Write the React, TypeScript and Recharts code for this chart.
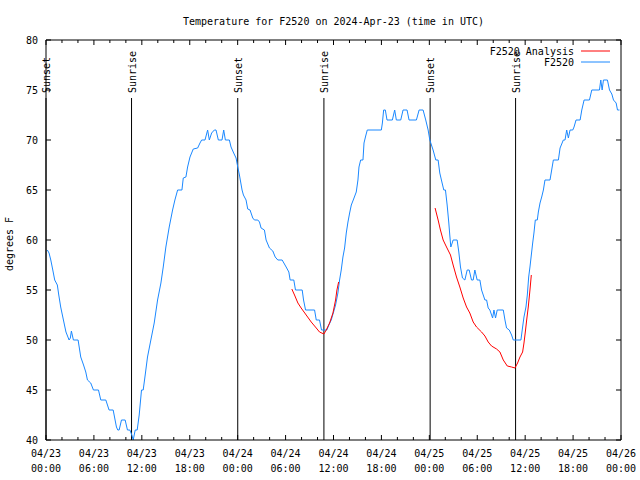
import React from 'react';
import { LineChart, Line, XAxis, YAxis, ReferenceLine } from 'recharts';

const FONT = '"DejaVu Sans Mono", "Liberation Mono", monospace';
const BLUE = '#1a88ff';
const RED = '#ff0000';

const titleText = 'Temperature for F2520 on 2024-Apr-23 (time in UTC)';
const yLabelText = 'degrees F';
const analysisName = 'F2520 Analysis';
const obsName = 'F2520';

// hours since 04/23 00:00 UTC
const xTickHours = [0, 2, 4, 6, 8, 10, 12, 14, 16, 18, 20, 22, 24, 26, 28, 30, 32, 34, 36, 38, 40, 42, 44, 46, 48, 50, 52, 54, 56, 58, 60, 62, 64, 66, 68, 70, 72];
const xTickDates = ['04/23', '04/23', '04/23', '04/23', '04/24', '04/24', '04/24', '04/24', '04/25', '04/25', '04/25', '04/25', '04/26'];
const xTickTimes = ['00:00', '06:00', '12:00', '18:00', '00:00', '06:00', '12:00', '18:00', '00:00', '06:00', '12:00', '18:00', '00:00'];
const yTicks = [40, 45, 50, 55, 60, 65, 70, 75, 80];

const sunsetHours = [0, 24.01, 48.1];
const sunriseHours = [10.71, 34.8, 58.8];

const obsHours = [
  0.17, 0.38, 0.6, 0.85, 1.09, 1.42, 1.6, 1.84, 2.05, 2.26, 2.5, 2.89, 3.05, 3.18, 3.43, 4.02, 4.35, 4.7, 4.98, 5.19,
  5.6, 5.94, 6.57, 6.86, 7.49, 7.9, 8.41, 8.82, 8.99, 9.16, 9.45, 9.91, 10.2, 10.5, 10.75, 10.92, 11.17, 11.42, 11.67, 11.96,
  12.17, 12.42, 12.71, 13.13, 13.55, 13.97, 14.39, 14.68, 15.01, 15.43, 15.85, 16.14, 16.48, 17.02, 17.19, 17.52, 17.73, 18.03, 18.44, 18.99,
  19.28, 19.49, 19.91, 20.24, 20.45, 20.74, 21.08, 21.29, 21.58, 22.04, 22.25, 22.46, 22.96, 23.17, 23.5, 23.8, 24.01, 24.22, 24.55, 24.72,
  25.05, 25.26, 25.55, 25.89, 26.1, 26.52, 26.73, 26.93, 27.35, 27.56, 27.98, 28.4, 28.7, 29.03, 29.57, 30.07, 30.41, 30.57, 31.03, 31.24,
  32.08, 32.25, 32.5, 33.63, 33.84, 34.25, 34.5, 35.17, 35.42, 35.72, 36.01, 36.26, 36.55, 36.76, 36.97, 37.18, 37.39, 37.6, 37.81, 38.02,
  38.23, 38.52, 38.85, 39.06, 39.19, 39.4, 39.69, 39.82, 40.03, 40.23, 41.99, 42.12, 42.28, 42.49, 42.7, 43.37, 43.66, 43.87, 44.42, 44.71,
  45.21, 45.46, 46.38, 46.72, 47.22, 47.55, 47.85, 48.06, 48.47, 48.81, 49.1, 49.31, 49.6, 49.81, 50.02, 50.23, 50.44, 50.56, 50.69, 50.86,
  50.98, 51.48, 51.69, 51.9, 52.15, 52.45, 52.74, 52.99, 53.28, 53.49, 53.7, 53.99, 54.33, 54.54, 54.96, 55.17, 55.37, 55.58, 55.92, 56.09,
  56.29, 56.5, 56.71, 57.26, 57.47, 57.67, 58.01, 58.3, 58.51, 59.47, 59.68, 59.85, 60.1, 60.27, 60.44, 60.6, 60.77, 60.94, 61.1, 61.27,
  61.52, 61.65, 61.86, 62.07, 62.28, 62.48, 63.11, 63.32, 63.53, 64.16, 64.37, 64.78, 64.99, 65.2, 65.41, 65.62, 65.96, 66.12, 66.37, 66.88,
  67.09, 67.38, 68.05, 68.34, 69.3, 69.47, 69.64, 69.8, 70.3, 70.56, 70.85, 71.06, 71.39, 71.56, 71.81,
];
const obsTemps = [
  59, 58.7, 58, 57, 56, 55.5, 54.5, 53.3, 52.5, 51.7, 50.8, 50, 50.2, 50.9, 50, 50, 48.3, 47.5, 46.8, 46,
  45.7, 45, 45, 44, 44, 43, 43, 41.3, 41, 41, 42, 42, 41, 41, 40.5, 40, 41, 41, 42.5, 45,
  45, 46.5, 48.3, 50, 51.7, 54, 55.7, 57.3, 59.3, 61.3, 63, 64, 65, 65, 66.2, 66.3, 67.3, 68.3, 69.1, 69.2,
  69.7, 70, 70, 71, 70, 70.7, 71, 71, 70, 70, 71, 70, 70, 69.3, 68.7, 68.2, 67.3, 66.5, 65, 64.5,
  64, 63.1, 63, 62.2, 62, 62, 61.8, 61.2, 61, 60, 59.2, 58.9, 58.3, 58, 58, 57.3, 56.8, 56, 56, 55,
  55, 54, 53, 53, 52, 52, 51, 51, 51.5, 52, 52.8, 53.5, 54.7, 56, 57, 58.3, 59.2, 60.7, 61.8, 62.7,
  63.5, 64.1, 64.8, 66, 67.3, 68, 68, 69.7, 70.4, 71, 71, 71.7, 73, 73, 72, 72, 73, 72, 72, 73,
  73, 72, 72, 73, 73, 72, 71, 70, 69, 68, 68, 66.7, 65.7, 65, 65, 63.5, 61.7, 60.5, 59.3, 59.7,
  60, 60, 58.8, 57.3, 56.2, 56, 57, 57, 56, 56, 57, 56, 56, 55, 54, 54, 53.2, 53, 52.2, 53,
  52.2, 53, 53, 53, 52, 51.2, 51, 50.5, 50, 50, 51.3, 52.3, 53.3, 54.5, 56.3, 57.3, 58.5, 59.7, 60.7, 62,
  62, 62.8, 63.7, 64.3, 65, 66, 66, 67, 68, 68, 69.2, 70, 70, 71, 70.2, 71, 71, 71.3, 72, 72,
  73, 74, 74, 75, 75, 76, 75, 76, 76, 75, 74.6, 74, 73.7, 73, 73,
];

const analysis1Hours = [30.78, 31.12, 31.54, 31.95, 32.58, 33.21, 33.84, 34.25, 34.8, 35.09, 35.51, 35.93, 36.26, 36.43, 36.64];
const analysis1Temps = [55.1, 54.5, 53.7, 53.2, 52.5, 51.8, 51.2, 50.8, 50.6, 51, 51.7, 52.7, 54, 55, 55.8];

const analysis2Hours = [48.72, 49.1, 49.39, 49.73, 50.15, 50.65, 50.98, 51.4, 51.82, 52.24, 52.66, 53.07, 53.49, 53.91, 54.54, 54.96, 55.37, 55.79, 56.42, 56.84, 57.26, 57.76, 58.3, 58.72, 59.05, 59.35, 59.68, 59.85, 60.02, 60.19, 60.39, 60.6, 60.77];
const analysis2Temps = [63.2, 62, 61, 60, 59.3, 58.5, 57.5, 56.3, 55.3, 54.2, 53.3, 52.7, 51.8, 51.3, 50.8, 50.4, 49.8, 49.4, 49.1, 48.8, 48, 47.4, 47.3, 47.2, 47.7, 48.3, 48.8, 49.7, 50.8, 52, 53.3, 55, 56.5];

const obsData = obsHours.map((h, i) => ({ h, t: obsTemps[i] }));
const analysis1Data = analysis1Hours.map((h, i) => ({ h, t: analysis1Temps[i] }));
const analysis2Data = analysis2Hours.map((h, i) => ({ h, t: analysis2Temps[i] }));

const textStyle = { fontFamily: FONT, fontSize: 10, fill: '#000' } as const;

const BottomTick = (props: any) => {
  const { x, y, payload } = props;
  const v = payload.value as number;
  const major = v % 6 === 0;
  const idx = Math.round(v / 6);
  return (
    <g>
      <line x1={x} y1={y} x2={x} y2={y - (major ? 5 : 3)} stroke="#000" />
      {major && (
        <text x={x} y={y + 17} textAnchor="middle" {...textStyle}>{xTickDates[idx]}</text>
      )}
      {major && (
        <text x={x} y={y + 32} textAnchor="middle" {...textStyle}>{xTickTimes[idx]}</text>
      )}
    </g>
  );
};

const TopTick = (props: any) => {
  const { x, y, payload } = props;
  const v = payload.value as number;
  const major = v % 6 === 0;
  return <line x1={x} y1={y} x2={x} y2={y + (major ? 5 : 3)} stroke="#000" />;
};

const LeftTick = (props: any) => {
  const { x, y, payload } = props;
  return (
    <g>
      <line x1={x} y1={y} x2={x + 5} y2={y} stroke="#000" />
      <text x={x - 8} y={y + 3.5} textAnchor="end" {...textStyle}>{payload.value}</text>
    </g>
  );
};

const RightTick = (props: any) => {
  const { x, y } = props;
  return <line x1={x} y1={y} x2={x - 5} y2={y} stroke="#000" />;
};

const makeSunShape = (label: string) => (p: any) => {
  const top = Math.min(p.y1, p.y2);
  const bottom = Math.max(p.y1, p.y2);
  const x = p.x1;
  return (
    <g>
      <line x1={x} y1={top + 58} x2={x} y2={bottom} stroke="#000" strokeWidth={1} />
      <text transform={`translate(${x + 4},${top + 53}) rotate(-90)`} textAnchor="start" {...textStyle}>
        {label}
      </text>
    </g>
  );
};

export default function App() {
  return (
    <div style={{ position: 'absolute', left: 0, top: 0, width: 640, height: 480, background: '#fff' }}>
      <LineChart
        width={640}
        height={480}
        margin={{ top: 10, right: 0, bottom: 0, left: 0 }}
      >
        <XAxis
          dataKey="h"
          type="number"
          domain={[0, 72]}
          ticks={xTickHours}
          interval={0}
          tickSize={0}
          tickMargin={0}
          tick={<BottomTick />}
          height={40}
          axisLine={{ stroke: '#000' }}
          allowDataOverflow
        />
        <XAxis
          xAxisId="top"
          orientation="top"
          dataKey="h"
          type="number"
          domain={[0, 72]}
          ticks={xTickHours}
          interval={0}
          tickSize={0}
          tickMargin={0}
          tick={<TopTick />}
          height={30}
          axisLine={{ stroke: '#000' }}
          allowDataOverflow
        />
        <YAxis
          type="number"
          domain={[40, 80]}
          ticks={yTicks}
          interval={0}
          tickSize={0}
          tickMargin={0}
          tick={<LeftTick />}
          width={46}
          axisLine={{ stroke: '#000' }}
          allowDataOverflow
        />
        <YAxis
          yAxisId="right"
          orientation="right"
          type="number"
          domain={[40, 80]}
          ticks={yTicks}
          interval={0}
          tickSize={0}
          tickMargin={0}
          tick={<RightTick />}
          width={19}
          axisLine={{ stroke: '#000' }}
          allowDataOverflow
        />
        {sunsetHours.map((h, i) => (
          <ReferenceLine key={'ss' + i} x={h} stroke="#000" shape={makeSunShape('Sunset')} />
        ))}
        {sunriseHours.map((h, i) => (
          <ReferenceLine key={'sr' + i} x={h} stroke="#000" shape={makeSunShape('Sunrise')} />
        ))}
        <Line
          data={obsData}
          dataKey="t"
          name={obsName}
          type="linear"
          stroke={BLUE}
          strokeWidth={1}
          dot={false}
          isAnimationActive={false}
        />
        <Line
          data={analysis1Data}
          dataKey="t"
          name={analysisName}
          type="linear"
          stroke={RED}
          strokeWidth={1}
          dot={false}
          isAnimationActive={false}
        />
        <Line
          data={analysis2Data}
          dataKey="t"
          name={analysisName}
          type="linear"
          stroke={RED}
          strokeWidth={1}
          dot={false}
          isAnimationActive={false}
        />
      </LineChart>
      <svg
        width={640}
        height={480}
        style={{ position: 'absolute', left: 0, top: 0, pointerEvents: 'none' }}
      >
        <text x={333.5} y={24.5} textAnchor="middle" {...textStyle}>{titleText}</text>
        <text transform="translate(12.5,244) rotate(-90)" textAnchor="middle" {...textStyle}>{yLabelText}</text>
        <text x={574} y={55} textAnchor="end" {...textStyle}>{analysisName}</text>
        <line x1={581} y1={51} x2={610} y2={51} stroke={RED} />
        <text x={574} y={66} textAnchor="end" {...textStyle}>{obsName}</text>
        <line x1={581} y1={62} x2={610} y2={62} stroke={BLUE} />
      </svg>
    </div>
  );
}
